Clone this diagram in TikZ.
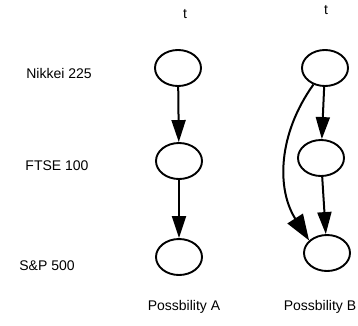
\documentclass[tikz,border=0pt]{standalone}
\usepackage{fontspec}
\setmainfont{Liberation Sans}
\usetikzlibrary{shapes.geometric, arrows.meta}

\begin{document}
\begin{tikzpicture}[x=1pt, y=-1pt,
    state/.style={ellipse, draw=black, line width=1.9pt, minimum width=46pt, minimum height=36pt, inner sep=0pt},
    link/.style={draw=black, line width=2pt, -{Triangle[length=22pt, width=14pt]}},
    label/.style={font=\fontsize{14}{16}\selectfont, text=black}]
    \useasboundingbox (0,0) rectangle (358,325);

      \path (178, 68) node[state] (a1) {};
      \path (a1) + (1, 93) node[state] (a2) {};
      \path (a2) + (0, 96) node[state] (a3) {};

      \path (325, 68) node[state] (b1) {};
      \path (b1) + (-4, 90) node[state] (b2) {};
      \path (b2) + (6, 95) node[state] (b3) {};

      \path (a1) + (7, -54) node[label] (ta) {t};
      \path (b1) + (1, -58) node[label] (tb) {t};

      \path (59, 73) node[label] (nikkei) {Nikkei 225};
      \path (57, 166) node[label] (ftse) {FTSE 100};
      \path (47, 266) node[label] (sp) {S\&P 500};

      \path (a3) + (5, 50) node[label] (posa) {Possbility A};
      \path (b3) + (-7, 54) node[label] (posb) {Possbility B};

      \draw[link] (a1) -- (a2);
      \draw[link] (a2) -- (a3);
      \draw[link] (b1) -- (b2);
      \draw[link] (b2) -- (b3);
      \draw[link, -{Triangle[length=26pt, width=18pt]}] (b1.235) to[bend right=34] (b3.145);

  \end{tikzpicture}
\end{document}
